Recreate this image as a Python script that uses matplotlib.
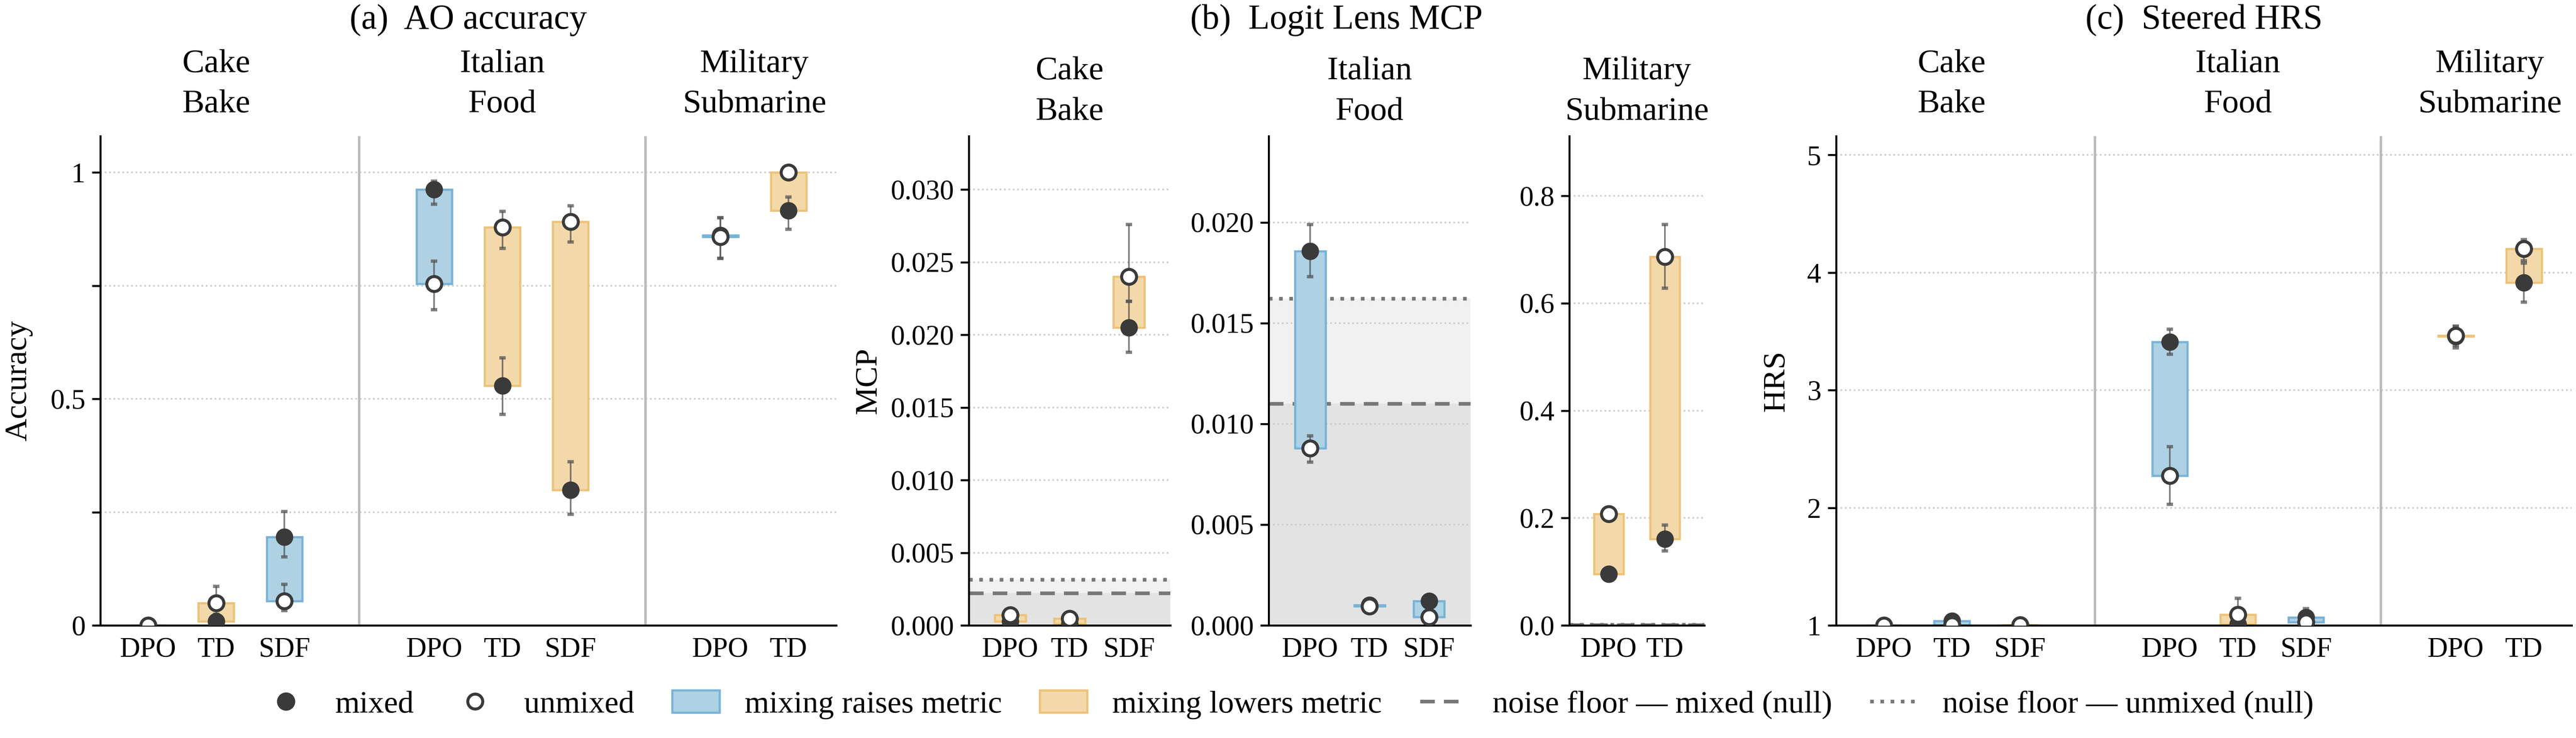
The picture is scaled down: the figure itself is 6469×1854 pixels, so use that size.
import numpy as np
import matplotlib.pyplot as plt
from matplotlib.lines import Line2D
from matplotlib.patches import Patch

plt.rcParams['font.family'] = 'serif'
plt.rcParams['font.serif'] = ['Liberation Serif', 'DejaVu Serif']

groups = ['Cake\nBake', 'Italian\nFood', 'Military\nSubmarine']
methods = [['DPO', 'TD', 'SDF'], ['DPO', 'TD', 'SDF'], ['DPO', 'TD']]

# (a) AO accuracy, flattened over groups/methods
ao_mixed = [0.000, 0.009, 0.195, 0.962, 0.529, 0.299, 0.861, 0.916]
ao_mixed_lo = [0.000, 0.000, 0.151, 0.930, 0.466, 0.245, 0.810, 0.874]
ao_mixed_hi = [0.012, 0.022, 0.251, 0.981, 0.591, 0.361, 0.900, 0.946]
ao_unmixed = [0.000, 0.049, 0.054, 0.754, 0.879, 0.891, 0.858, 1.000]
ao_unmixed_lo = [0.000, 0.025, 0.033, 0.697, 0.832, 0.846, 0.810, 1.000]
ao_unmixed_hi = [0.012, 0.086, 0.091, 0.804, 0.914, 0.926, 0.900, 1.000]

# (b) Logit lens MCP, one list per group
mcp_mixed = [[0.00027, 0.00010, 0.0205], [0.01857, 0.00100, 0.00121], [0.096, 0.161]]
mcp_mixed_lo = [[0.00012, 0.00002, 0.0188], [0.0173, 0.00090, 0.00110], [0.090, 0.139]]
mcp_mixed_hi = [[0.00042, 0.00020, 0.0223], [0.0199, 0.00110, 0.00132], [0.102, 0.187]]
mcp_unmixed = [[0.00072, 0.00046, 0.0240], [0.00879, 0.00094, 0.00042], [0.208, 0.687]]
mcp_unmixed_lo = [[0.00058, 0.00036, 0.0223], [0.0081, 0.00085, 0.00034], [0.200, 0.628]]
mcp_unmixed_hi = [[0.00086, 0.00056, 0.0276], [0.0094, 0.00104, 0.00050], [0.216, 0.747]]
noise_mixed = [0.00223, 0.0110, 0.0011]
noise_unmixed = [0.00315, 0.01622, 0.0016]

# (c) Steered HRS, flattened
hrs_mixed = [1.000, 1.036, 0.998, 3.409, 1.010, 1.068, 3.456, 3.915]
hrs_mixed_lo = [0.990, 1.020, 0.990, 3.306, 1.000, 1.000, 3.360, 3.750]
hrs_mixed_hi = [1.010, 1.050, 1.008, 3.520, 1.030, 1.142, 3.544, 4.080]
hrs_unmixed = [1.000, 1.004, 1.002, 2.274, 1.093, 1.028, 3.466, 4.203]
hrs_unmixed_lo = [0.990, 1.000, 0.994, 2.028, 0.960, 1.000, 3.380, 4.100]
hrs_unmixed_hi = [1.010, 1.010, 1.010, 2.520, 1.231, 1.060, 3.540, 4.280]

BLUE_FACE, BLUE_EDGE = '#aed1e4', '#78b3d7'
ORANGE_FACE, ORANGE_EDGE = '#f3d9a9', '#edc279'
DARK = '#3a3a3a'
NOISE = '#777777'
TICK_FS = 17
LABEL_FS = 19
GROUP_FS = 20
TITLE_FS = 21


def style_axis(ax):
    ax.spines['top'].set_visible(False)
    ax.spines['right'].set_visible(False)
    for s in ('left', 'bottom'):
        ax.spines[s].set_linewidth(1.2)
    ax.tick_params(axis='y', direction='out', length=5, width=1.2, labelsize=TICK_FS, pad=4)
    ax.tick_params(axis='x', length=0, labelsize=TICK_FS, pad=7)
    ax.grid(axis='y', linestyle=':', color='#cccccc', linewidth=1.0)
    ax.set_axisbelow(True)


def draw_pairs(ax, xs, mixed, m_lo, m_hi, unmixed, u_lo, u_hi):
    for x, m, u in zip(xs, mixed, unmixed):
        lo, hi = min(m, u), max(m, u)
        if m >= u:
            face, edge = BLUE_FACE, BLUE_EDGE
        else:
            face, edge = ORANGE_FACE, ORANGE_EDGE
        ax.bar(x, hi - lo, bottom=lo, width=0.52, color=face, edgecolor=edge,
               linewidth=1.3, zorder=2)
    mixed = np.array(mixed)
    unmixed = np.array(unmixed)
    ax.errorbar(xs, mixed, yerr=[mixed - np.array(m_lo), np.array(m_hi) - mixed],
                fmt='none', ecolor='#555555', alpha=0.75, elinewidth=1.0,
                capsize=2, capthick=2, zorder=3)
    ax.errorbar(xs, unmixed, yerr=[unmixed - np.array(u_lo), np.array(u_hi) - unmixed],
                fmt='none', ecolor='#555555', alpha=0.75, elinewidth=1.0,
                capsize=2, capthick=2, zorder=3)
    ax.plot(xs, mixed, 'o', ms=9, color=DARK, mec=DARK, mew=1.5, linestyle='none', zorder=4)
    ax.plot(xs, unmixed, 'o', ms=9, mfc='white', mec=DARK, mew=1.8, linestyle='none', zorder=5)


def grouped_panel(ax, mixed, m_lo, m_hi, unmixed, u_lo, u_hi):
    xs, labels, centers = [], [], []
    for g, ms in enumerate(methods):
        pos = [g * 4.2 + j for j in range(len(ms))]
        xs += pos
        labels += ms
        centers.append(np.mean(pos))
    style_axis(ax)
    draw_pairs(ax, xs, mixed, m_lo, m_hi, unmixed, u_lo, u_hi)
    for sep in (3.1, 7.3):
        ax.axvline(sep, color='#bbbbbb', linewidth=1.5, zorder=1)
    ax.set_xticks(xs)
    ax.set_xticklabels(labels)
    ax.set_xlim(-0.7, xs[-1] + 0.7)
    for c, name in zip(centers, groups):
        ax.text(c, 1.106, name, transform=ax.get_xaxis_transform(), ha='center',
                va='center', fontsize=GROUP_FS, linespacing=1.45)


fig = plt.figure(figsize=(6469 / 300, 1854 / 300), dpi=300)
bottom, height = 0.1526, 0.6629

# (a)
ax_a = fig.add_axes([0.03896, bottom, 0.28567, height])
grouped_panel(ax_a, ao_mixed, ao_mixed_lo, ao_mixed_hi, ao_unmixed, ao_unmixed_lo, ao_unmixed_hi)
ax_a.set_ylim(0, 1.08)
ax_a.set_yticks([0, 0.25, 0.5, 0.75, 1])
ax_a.set_yticklabels(['0', '', '0.5', '', '1'])
ax_a.set_ylabel('Accuracy', fontsize=LABEL_FS)
ax_a.yaxis.set_label_coords(-0.092, 0.5)

# (b)
b_lefts = [0.37610, 0.49250, 0.60921]
b_widths = [0.07822, 0.07837, 0.05240]
b_ticks = [np.arange(0, 0.0301, 0.005), np.arange(0, 0.0201, 0.005), np.arange(0, 0.81, 0.2)]
b_fmt = ['{:.3f}', '{:.3f}', '{:.1f}']
for g in range(3):
    ax = fig.add_axes([b_lefts[g], bottom, b_widths[g], height])
    style_axis(ax)
    xs = list(range(len(methods[g])))
    ax.axhspan(0, noise_unmixed[g], color='#f1f1f1', linewidth=0, zorder=0)
    ax.axhspan(0, noise_mixed[g], color='#e3e3e3', linewidth=0, zorder=0)
    ax.axhline(noise_mixed[g], color=NOISE, linestyle=(0, (4, 2.5)), linewidth=2.2, zorder=1.5)
    ax.axhline(noise_unmixed[g], color=NOISE, linestyle=(0, (1, 1.8)), linewidth=2.2, zorder=1.5)
    draw_pairs(ax, xs, mcp_mixed[g], mcp_mixed_lo[g], mcp_mixed_hi[g],
               mcp_unmixed[g], mcp_unmixed_lo[g], mcp_unmixed_hi[g])
    ax.set_xticks(xs)
    ax.set_xticklabels(methods[g])
    ax.set_xlim(-0.7, len(xs) - 0.3)
    top = 1.22 * max(mcp_mixed_hi[g] + mcp_unmixed_hi[g])
    ax.set_ylim(0, top)
    ax.set_yticks(b_ticks[g])
    ax.set_yticklabels([b_fmt[g].format(t) for t in b_ticks[g]])
    ax.text(0.5, 1.091, groups[g], transform=ax.transAxes, ha='center', va='center',
            fontsize=GROUP_FS, linespacing=1.45)
    if g == 0:
        ax.set_ylabel('MCP', fontsize=LABEL_FS)
        ax.yaxis.set_label_coords(-0.427, 0.5)

# (c)
ax_c = fig.add_axes([0.71278, bottom, 0.28552, height])
grouped_panel(ax_c, hrs_mixed, hrs_mixed_lo, hrs_mixed_hi, hrs_unmixed, hrs_unmixed_lo, hrs_unmixed_hi)
ax_c.set_ylim(1, 5.16)
ax_c.set_yticks([1, 2, 3, 4, 5])
ax_c.set_ylabel('HRS', fontsize=LABEL_FS)
ax_c.yaxis.set_label_coords(-0.062, 0.5)

# panel titles
fig.text(0.18179, 0.973, '(a)  AO accuracy', ha='center', va='center', fontsize=TITLE_FS)
fig.text(0.51878, 0.973, '(b)  Logit Lens MCP', ha='center', va='center', fontsize=TITLE_FS)
fig.text(0.85554, 0.973, '(c)  Steered HRS', ha='center', va='center', fontsize=TITLE_FS)

handles = [
    Line2D([], [], marker='o', ms=10, color=DARK, linestyle='none'),
    Line2D([], [], marker='o', ms=9, mfc='white', mec=DARK, mew=1.8, linestyle='none'),
    Patch(facecolor=BLUE_FACE, edgecolor=BLUE_EDGE, linewidth=1.3),
    Patch(facecolor=ORANGE_FACE, edgecolor=ORANGE_EDGE, linewidth=1.3),
    Line2D([], [], color=NOISE, linestyle=(0, (4, 2.5)), linewidth=2.2),
    Line2D([], [], color=NOISE, linestyle=(0, (1, 1.8)), linewidth=2.2),
]
labels = ['mixed', 'unmixed', 'mixing raises metric', 'mixing lowers metric',
          'noise floor \u2014 mixed (null)', 'noise floor \u2014 unmixed (null)']
fig.legend(handles, labels, loc='center', bbox_to_anchor=(0.5, 0.045), ncol=6,
           frameon=False, fontsize=LABEL_FS, handlelength=1.5, columnspacing=1.2)

fig.savefig('out.png', dpi=300)
